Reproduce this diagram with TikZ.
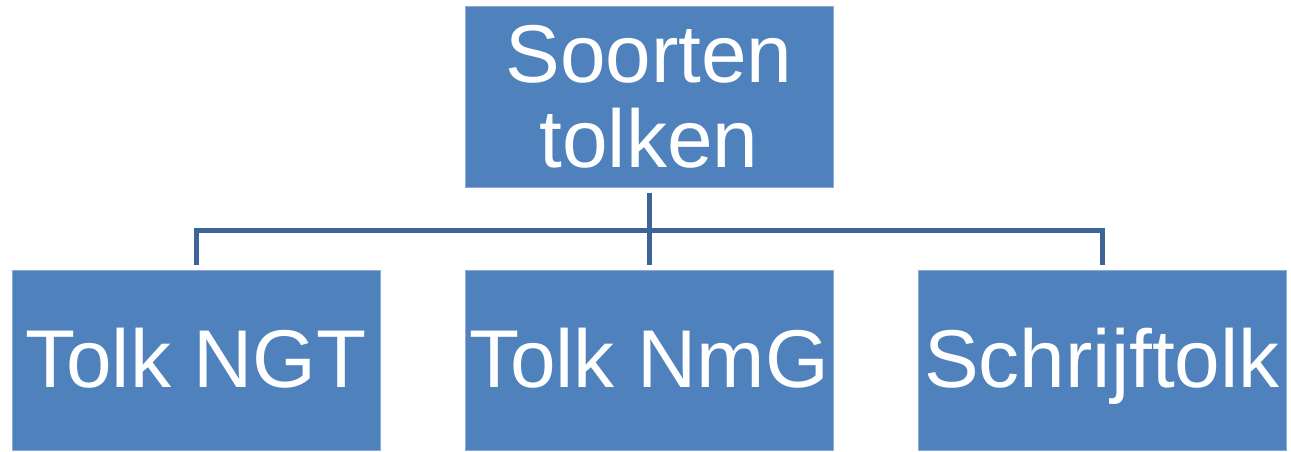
\documentclass[tikz,border=0pt]{standalone}
\usepackage{fontspec}
\setmainfont{Liberation Sans}
\definecolor{boxblue}{HTML}{4F81BD}
\definecolor{boxedge}{HTML}{8EAADB}
\definecolor{linkblue}{HTML}{3D6496}
\tikzset{
  catbox/.style={fill=boxblue, draw=boxedge, line width=0.8pt, minimum width=368pt, minimum height=180pt,
    inner sep=0pt, text=white, font=\fontsize{82}{85}\selectfont, align=center},
  leaf/.style={catbox, text height=59pt, text depth=6pt},
  conn/.style={draw=linkblue, line width=5pt}
}
\begin{document}
\begin{tikzpicture}[x=1pt,y=-1pt]
\useasboundingbox (0,0) rectangle (1291,451);
\node[catbox, minimum height=181pt] (top) at (649,96.5) {Soorten\\tolken};
\node[leaf] (ngt) at (196,360.5) {Tolk NGT};
\node[leaf] (nmg) at (649,360.5) {Tolk NmG};
\node[leaf] (schrijf) at (1102,360.5) {Schrijftolk};
\coordinate (bus) at (649,230);
\draw[conn] ([yshift=-6pt]top.south) -- ([yshift=5pt]nmg.north);
\draw[conn] ([yshift=5pt]ngt.north) |- (bus) -| ([yshift=5pt]schrijf.north);
\end{tikzpicture}
\end{document}
